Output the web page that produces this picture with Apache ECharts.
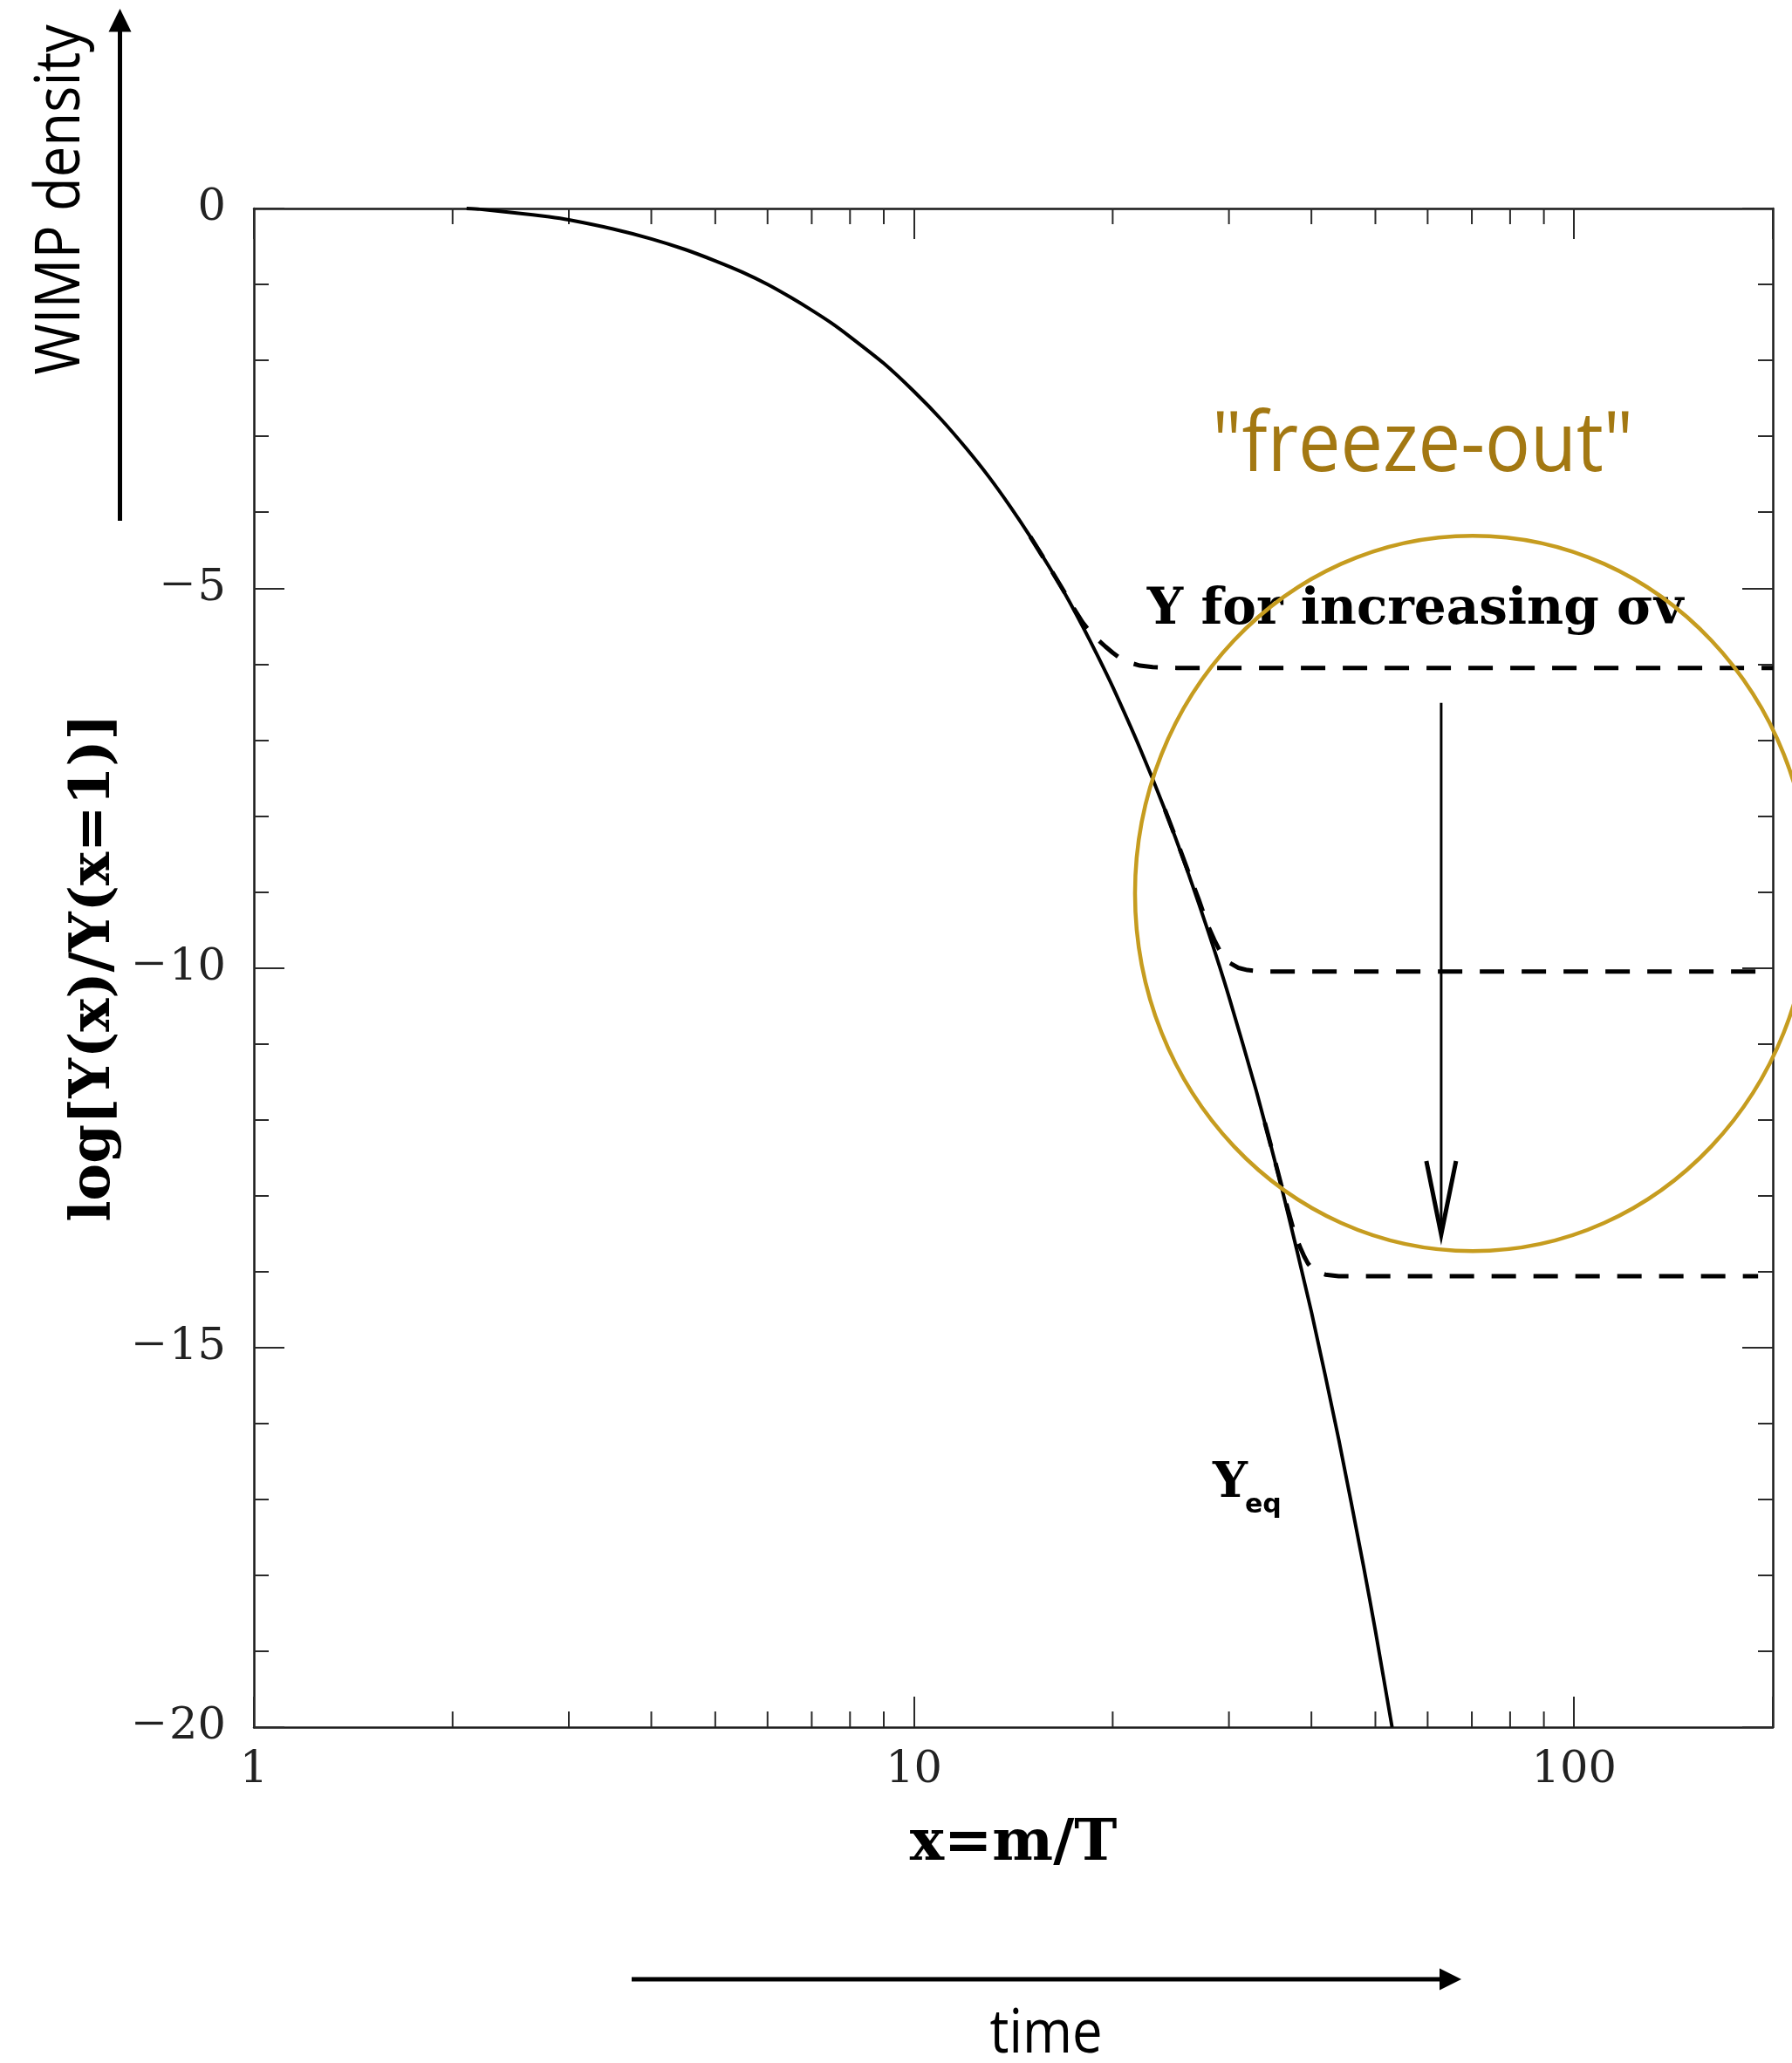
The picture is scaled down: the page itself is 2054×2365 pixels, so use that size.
<!DOCTYPE html>
<html><head><meta charset="utf-8">
<script src="https://cdn.jsdelivr.net/npm/echarts@6/dist/echarts.min.js"></script>
<style>html,body{margin:0;padding:0;background:#fff}#c{width:2054px;height:2365px}</style>
</head><body><div id="c"></div>
<script>
// ---- axes ----
const xRange = [1, 200];
const yRange = [-20, 0];
const xTickLabels = [1, 10, 100];
const xMinorTicks = [2, 3, 4, 5, 6, 7, 8, 9, 20, 30, 40, 50, 60, 70, 80, 90];
const yTickInterval = 5;

// ---- Y_eq (solid) ----
const eqX = [2.1, 2.2, 2.5, 2.8, 3, 3.5, 4, 4.5, 5, 5.5, 6, 6.5, 7, 7.5, 8, 9, 10, 11, 12, 13, 14, 15, 16, 17, 18, 19, 20, 22, 24, 26, 28, 30, 33, 36, 40, 44, 48, 50, 53];
const eqY = [0, -0.01, -0.06, -0.11, -0.15, -0.27, -0.40, -0.54, -0.69, -0.84, -1.00, -1.17, -1.34, -1.51, -1.69, -2.04, -2.41, -2.78, -3.16, -3.54, -3.93, -4.32, -4.71, -5.10, -5.50, -5.90, -6.30, -7.11, -7.92, -8.74, -9.56, -10.38, -11.62, -12.87, -14.53, -16.21, -17.89, -18.73, -20.0];

// ---- Y for increasing sigma v (dashed) ----
const fo1X = [15, 16, 17, 17.5, 18, 18.5, 19, 19.5, 20, 20.5, 21, 22, 23, 25, 200];
const fo1Y = [-4.32, -4.71, -5.09, -5.28, -5.45, -5.58, -5.68, -5.77, -5.85, -5.92, -5.97, -6.02, -6.04, -6.05, -6.05];
const fo2X = [24, 25, 26, 27, 27.5, 28, 28.5, 29, 29.5, 30, 31, 32, 34, 200];
const fo2Y = [-7.92, -8.32, -8.72, -9.10, -9.30, -9.48, -9.63, -9.76, -9.86, -9.93, -10.00, -10.03, -10.05, -10.05];
const fo3X = [34, 35, 36, 37, 37.5, 38, 38.5, 39, 39.5, 40, 41, 42, 44, 190];
const fo3Y = [-12.04, -12.45, -12.86, -13.24, -13.42, -13.57, -13.69, -13.80, -13.89, -13.95, -14.01, -14.04, -14.06, -14.06];

// ---- annotation anchors (data coords) ----
const arrowX = 62.9, arrowFromY = -6.51, arrowToY = -13.51;
const ellipseCenter = [70.2, -9.02];
const sigmaTextAnchor = [22.55, -5.53];
const freezeAnchor = [58.97, -3.57];
const yeqAnchor = [28.35, -17.02];

const pairs = (xs, ys) => xs.map((x, i) => [x, ys[i]]);

const tickLine = { color: '#2a2a2a', width: 2 };
const frameLine = { color: '#1a1a1a', width: 2.5 };
const tickRich = {
  m: { fontFamily: 'Liberation Serif', fontSize: 68, lineHeight: 60, verticalAlign: 'middle', color: '#222', padding: [0, 4, 0, 0] },
  d: { fontFamily: 'DejaVu Serif', fontSize: 51, lineHeight: 60, verticalAlign: 'middle', color: '#222' }
};

const xAxisBase = {
  type: 'log', logBase: 10, min: xRange[0], max: xRange[1],
  axisLine: { show: true, onZero: false, lineStyle: frameLine },
  axisTick: { show: true, inside: true, length: 35, lineStyle: tickLine },
  splitLine: { show: false }, minorTick: { show: false }, minorSplitLine: { show: false }
};
const yAxisBase = {
  type: 'value', min: yRange[0], max: yRange[1], interval: yTickInterval,
  axisLine: { show: true, onZero: false, lineStyle: frameLine },
  axisTick: { show: true, inside: true, length: 35, lineStyle: tickLine },
  minorTick: { show: true, splitNumber: 5, length: 17, lineStyle: tickLine },
  splitLine: { show: false }
};

const isLabel = v => xTickLabels.some(t => Math.abs(v - t) / t < 1e-6);

const option = {
  animation: false,
  backgroundColor: '#fff',
  grid: { left: 291, top: 239, width: 1741, height: 1741, show: false },
  xAxis: [
    Object.assign({}, xAxisBase, {
      position: 'bottom',
      axisLabel: { show: true, margin: 20, formatter: v => isLabel(v) ? '{d|' + Math.round(v) + '}' : '', rich: tickRich },
      name: 'x=m/T', nameLocation: 'middle', nameGap: 102,
      nameTextStyle: { fontFamily: 'DejaVu Serif', fontWeight: 'bold', fontSize: 66, color: '#000' }
    }),
    Object.assign({}, xAxisBase, { position: 'top', axisLabel: { show: false } })
  ],
  yAxis: [
    Object.assign({}, yAxisBase, {
      position: 'left',
      axisLabel: { show: true, margin: 32, formatter: v => v === 0 ? '{d|0}' : '{m|\u2212}{d|' + Math.abs(v) + '}', rich: tickRich },
      name: 'log[Y(x)/Y(x=1)]', nameLocation: 'middle', nameRotate: 90, nameGap: 141,
      nameTextStyle: { fontFamily: 'DejaVu Serif', fontWeight: 'bold', fontSize: 64, color: '#000' }
    }),
    Object.assign({}, yAxisBase, { position: 'right', axisLabel: { show: false } })
  ],
  series: [
    {
      type: 'custom', name: 'minor x ticks', xAxisIndex: 0, yAxisIndex: 0, silent: true, clip: false,
      data: xMinorTicks.map(v => [v, yRange[0]]),
      renderItem: (params, api) => {
        const v = api.value(0);
        const pb = api.coord([v, yRange[0]]);
        const pt = api.coord([v, yRange[1]]);
        return { type: 'group', children: [
          { type: 'line', shape: { x1: pb[0], y1: pb[1], x2: pb[0], y2: pb[1] - 18 }, style: { stroke: tickLine.color, lineWidth: tickLine.width } },
          { type: 'line', shape: { x1: pt[0], y1: pt[1], x2: pt[0], y2: pt[1] + 18 }, style: { stroke: tickLine.color, lineWidth: tickLine.width } }
        ] };
      }
    },
    ...[[fo1X, fo1Y], [fo2X, fo2Y], [fo3X, fo3Y]].map(([xs, ys]) => ({
      type: 'line', data: pairs(xs, ys), showSymbol: false, symbol: 'none', silent: true,
      lineStyle: { color: '#000', width: 5, type: [28, 20] }
    })),
    {
      type: 'line', name: 'Yeq', data: pairs(eqX, eqY), showSymbol: false, symbol: 'none', silent: true, smooth: 0.2,
      lineStyle: { color: '#000', width: 4 }
    }
  ]
};

const chart = echarts.init(document.getElementById('c'), null, { renderer: 'canvas', width: 2054, height: 2365 });
chart.setOption(option);

const P = v => chart.convertToPixel({ xAxisIndex: 0, yAxisIndex: 0 }, v);
const a0 = P([arrowX, arrowFromY]);
const a1 = P([arrowX, arrowToY]);
const ec = P(ellipseCenter);
const st = P(sigmaTextAnchor);
const fz = P(freezeAnchor);
const yq = P(yeqAnchor);
const gold = '#C69C1F';
const goldText = '#A37812';

chart.setOption({
  graphic: [
    // vertical arrow inside the plot
    { type: 'line', z: 100, shape: { x1: a0[0], y1: a0[1], x2: a1[0], y2: a1[1] }, style: { stroke: '#000', lineWidth: 3 } },
    { type: 'polyline', z: 100, shape: { points: [[a1[0] - 17, a1[1] - 84], [a1[0], a1[1]], [a1[0] + 17, a1[1] - 84]] }, style: { stroke: '#000', lineWidth: 5, fill: null, lineJoin: 'miter' } },
    // texts inside plot
    { type: 'text', z: 100, x: st[0], y: st[1] - 0.346 * 58, style: { text: 'Y for increasing \u03c3v', font: 'bold 58px "DejaVu Serif"', fill: '#000', textAlign: 'left', textVerticalAlign: 'middle' } },
    { type: 'text', z: 100, x: yq[0], y: yq[1] - 0.346 * 56, style: { text: 'Y', font: 'bold 56px "DejaVu Serif"', fill: '#000', textAlign: 'left', textVerticalAlign: 'middle' } },
    { type: 'text', z: 100, x: yq[0] + 37, y: yq[1] + 16 - 0.346 * 30, style: { text: 'eq', font: 'bold 30px "DejaVu Sans"', fill: '#000', textAlign: 'left', textVerticalAlign: 'middle' } },
    // freeze-out
    { type: 'text', z: 101, x: fz[0], y: fz[1] - 0.388 * 95, scaleX: 0.91, style: { text: '"freeze-out"', font: '95px "Open Sans"', fill: goldText, textAlign: 'center', textVerticalAlign: 'middle' } },
    { type: 'ellipse', z: 101, shape: { cx: ec[0], cy: ec[1], rx: 387, ry: 410 }, style: { fill: null, stroke: gold, lineWidth: 4.5 } },
    // WIMP density arrow (outside plot)
    { type: 'line', z: 100, shape: { x1: 137.5, y1: 597, x2: 137.5, y2: 34 }, style: { stroke: '#000', lineWidth: 5 } },
    { type: 'polygon', z: 100, shape: { points: [[124.5, 36.5], [150.5, 36.5], [137.5, 10]] }, style: { fill: '#000' } },
    { type: 'text', z: 100, x: 98.5 - 0.388 * 72, y: 229, rotation: Math.PI / 2, scaleX: 0.88, style: { text: 'WIMP density', font: '72px "Open Sans"', fill: '#000', textAlign: 'center', textVerticalAlign: 'middle' } },
    // time arrow
    { type: 'line', z: 100, shape: { x1: 724, y1: 2269, x2: 1652, y2: 2269 }, style: { stroke: '#000', lineWidth: 5 } },
    { type: 'polygon', z: 100, shape: { points: [[1650, 2256.5], [1650, 2281.5], [1675, 2269]] }, style: { fill: '#000' } },
    { type: 'text', z: 100, x: 1199, y: 2360 - 0.388 * 70, scaleX: 0.88, style: { text: 'time', font: '70px "Open Sans"', fill: '#000', textAlign: 'center', textVerticalAlign: 'middle' } }
  ]
});
</script>
</body></html>
